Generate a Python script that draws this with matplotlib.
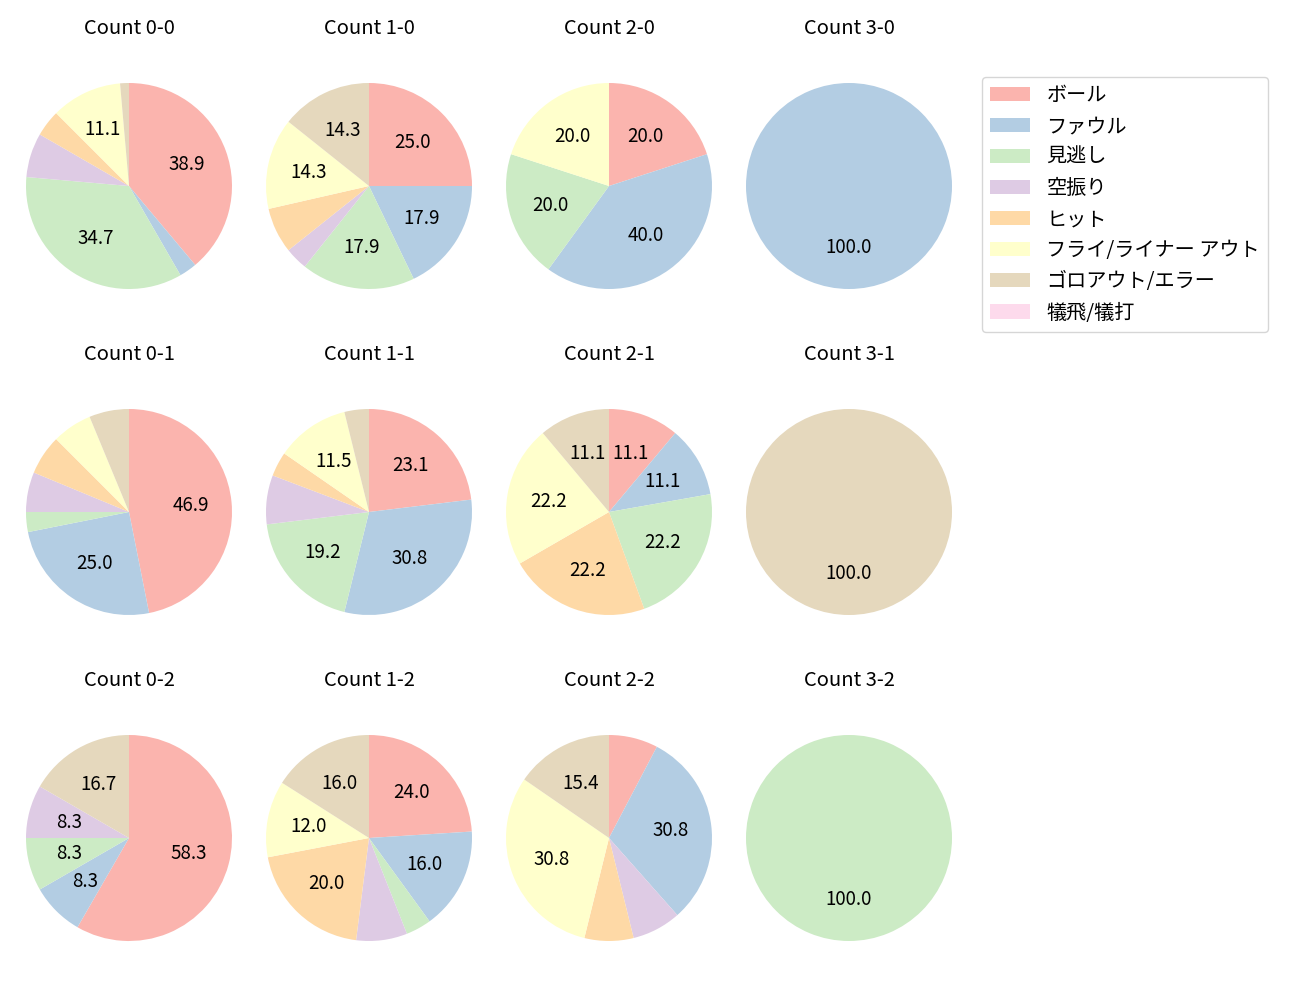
#!/usr/bin/env python3
"""Pie charts of pitch outcomes for each ball-strike count."""

import matplotlib

matplotlib.use("Agg")
import matplotlib.pyplot as plt

plt.rcParams["font.family"] = ["Noto Sans CJK JP", "DejaVu Sans"]

outcomes = [
    "ボール",
    "ファウル",
    "見逃し",
    "空振り",
    "ヒット",
    "フライ/ライナー アウト",
    "ゴロアウト/エラー",
    "犠飛/犠打",
]
colors = ["#fbb4ae", "#b3cde3", "#ccebc5", "#decbe4",
          "#fed9a6", "#ffffcc", "#e5d8bd", "#fddaec"]

# pitch counts per outcome, in the order of `outcomes`
counts = {
    "0-0": [28, 2, 25, 5, 3, 8, 1, 0],
    "1-0": [7, 5, 5, 1, 2, 4, 4, 0],
    "2-0": [1, 2, 1, 0, 0, 1, 0, 0],
    "3-0": [0, 1, 0, 0, 0, 0, 0, 0],
    "0-1": [15, 8, 1, 2, 2, 2, 2, 0],
    "1-1": [6, 8, 5, 2, 1, 3, 1, 0],
    "2-1": [1, 1, 2, 0, 2, 2, 1, 0],
    "3-1": [0, 0, 0, 0, 0, 0, 1, 0],
    "0-2": [7, 1, 1, 1, 0, 0, 2, 0],
    "1-2": [6, 4, 1, 2, 5, 3, 4, 0],
    "2-2": [1, 4, 0, 1, 1, 4, 2, 0],
    "3-2": [0, 0, 1, 0, 0, 0, 0, 0],
}
balls = [0, 1, 2, 3]
strikes = [0, 1, 2]


def pct_label(p):
    # small slices stay unlabelled
    return f"{p:.1f}" if p > 8.1 else ""


fig = plt.figure(figsize=(13, 10), dpi=100)
W, H = 1300, 1000
ax_w, ax_h = 230, 288
radius_px = 103
wedges_all = None
for row, s in enumerate(strikes):
    for col, b in enumerate(balls):
        cx = 129 + 240 * col
        cy = 186 + 326 * row
        ax = fig.add_axes([(cx - ax_w / 2) / W, 1 - (cy + ax_h / 2) / H, ax_w / W, ax_h / H])
        key = f"{b}-{s}"
        wedges, _, _ = ax.pie(
            counts[key],
            colors=colors,
            startangle=90,
            counterclock=False,
            autopct=pct_label,
            pctdistance=0.6,
            textprops={"fontsize": 13.5},
        )
        ax.set_aspect("auto")
        ax.set_xlim(-ax_w / 2 / radius_px, ax_w / 2 / radius_px)
        ax.set_ylim(-ax_h / 2 / radius_px, ax_h / 2 / radius_px)
        ax.set_title(f"Count {key}", fontsize=14.5)
        if wedges_all is None:
            wedges_all = wedges

fig.legend(
    wedges_all,
    outcomes,
    loc="upper left",
    bbox_to_anchor=(982 / W, 1 - 77 / H),
    borderaxespad=0,
    fontsize=14.5,
)
fig.savefig("out.png", dpi=100)
